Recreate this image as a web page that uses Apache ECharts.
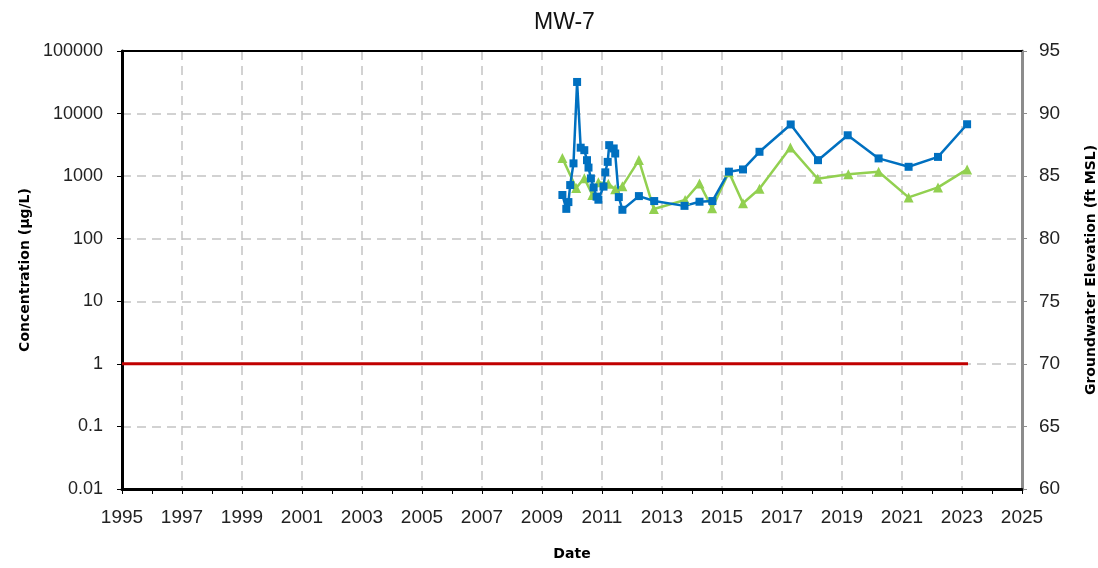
<!DOCTYPE html>
<html>
<head>
<meta charset="utf-8">
<title>MW-7</title>
<script src="https://cdn.jsdelivr.net/npm/echarts/dist/echarts.min.js"></script>
<style>
  html, body { margin: 0; padding: 0; background: #fff; }
  #main { width: 1098px; height: 568px; }
</style>
</head>
<body>
<div id="main"></div>
<script>
// concentration (blue squares, left log axis)
const concDates = [2009.68, 2009.81, 2009.88, 2009.94, 2010.05, 2010.17, 2010.29, 2010.41, 2010.50, 2010.55,
  2010.63, 2010.72, 2010.82, 2010.88, 2011.05, 2011.11, 2011.19, 2011.24, 2011.39, 2011.44,
  2011.56, 2011.68, 2012.23, 2012.74, 2013.75, 2014.25, 2014.68, 2015.23, 2015.70, 2016.25,
  2017.29, 2018.20, 2019.19, 2020.22, 2021.22, 2022.20, 2023.17];
const concValues = [500, 300, 385, 720, 1600, 32000, 2850, 2600, 1800, 1370,
  920, 660, 470, 420, 680, 1150, 1690, 3130, 2770, 2300,
  463, 290, 480, 400, 335, 390, 400, 1180, 1280, 2450,
  6700, 1800, 4500, 1920, 1410, 2030, 6750];

// groundwater elevation (green triangles, right axis)
const gwDates = [2009.68, 2010.14, 2010.41, 2010.68, 2010.88, 2011.21, 2011.44, 2011.68, 2012.23, 2012.73,
  2013.77, 2014.25, 2014.67, 2015.23, 2015.70, 2016.25, 2017.28, 2018.19, 2019.21, 2020.22,
  2021.22, 2022.20, 2023.17];
const gwValues = [86.44, 84.05, 84.84, 83.49, 84.52, 84.4, 83.95, 84.2, 86.28, 82.37,
  83.09, 84.42, 82.43, 85.32, 82.83, 83.99, 87.28, 84.79, 85.16, 85.35,
  83.3, 84.1, 85.54];

// cleanup level line
const limitDates = [1995, 2023.2];
const limitValues = [1, 1];

const yearMin = 1995, yearMax = 2025;
const elevMin = 60, elevMax = 95;

const chart = echarts.init(document.getElementById('main'));

const labelFont = 'Liberation Sans';
const nameStyle = { fontFamily: 'DejaVu Sans', fontWeight: 'bold', fontSize: 14, color: '#000' };
const dashed = { show: true, lineStyle: { color: '#c4c4c4', width: 1.5, type: [9, 6] } };

const zip = (xs, ys) => xs.map((x, i) => [x, ys[i]]);

const option = {
  animation: false,
  title: {
    text: 'MW-7',
    left: 529,
    top: 6,
    textStyle: { fontFamily: labelFont, fontWeight: 'normal', fontSize: 23, color: '#111' }
  },
  grid: { left: 122, right: 76, top: 51, bottom: 79, outerBoundsMode: 'none', containLabel: false },
  xAxis: [
    {
      type: 'value',
      min: yearMin,
      max: yearMax,
      interval: 2,
      name: 'Date',
      nameLocation: 'middle',
      nameGap: 58,
      nameTextStyle: nameStyle,
      axisLine: { lineStyle: { color: '#000', width: 3 } },
      axisTick: { show: true, length: 5, lineStyle: { color: '#000', width: 1 } },
      minorTick: { show: true, splitNumber: 2, length: 5, lineStyle: { color: '#000', width: 1 } },
      axisLabel: { fontFamily: labelFont, fontSize: 19, color: '#222', margin: 19, formatter: v => String(v) },
      splitLine: dashed
    },
    {
      // plain top border
      type: 'value',
      position: 'top',
      min: yearMin,
      max: yearMax,
      axisLine: { show: true, lineStyle: { color: '#000', width: 2 } },
      axisTick: { show: false },
      axisLabel: { show: false },
      splitLine: { show: false }
    }
  ],
  yAxis: [
    {
      type: 'log',
      logBase: 10,
      min: 0.01,
      max: 100000,
      splitNumber: 7,
      name: 'Concentration (µg/L)',
      nameLocation: 'middle',
      nameGap: 88,
      nameRotate: 90,
      nameTextStyle: nameStyle,
      axisLine: { show: true, lineStyle: { color: '#000', width: 3 } },
      axisTick: { show: true, length: 5, lineStyle: { color: '#000' } },
      axisLabel: {
        fontFamily: labelFont, fontSize: 18, color: '#222', margin: 19,
        formatter: v => String(+v.toPrecision(2))
      },
      splitLine: dashed
    },
    {
      type: 'value',
      position: 'right',
      min: elevMin,
      max: elevMax,
      interval: 5,
      name: 'Groundwater Elevation (ft MSL)',
      nameLocation: 'middle',
      nameGap: 62,
      nameRotate: 90,
      nameTextStyle: nameStyle,
      axisLine: { show: true, lineStyle: { color: '#8c8c8c', width: 3 } },
      axisTick: { show: true, length: 5, lineStyle: { color: '#8c8c8c' } },
      axisLabel: { fontFamily: labelFont, fontSize: 19, color: '#222', margin: 17 },
      splitLine: { show: false }
    }
  ],
  series: [
    {
      name: 'limit',
      type: 'line',
      yAxisIndex: 0,
      data: zip(limitDates, limitValues),
      showSymbol: false,
      lineStyle: { color: '#c00000', width: 3 }
    },
    {
      name: 'Groundwater Elevation',
      type: 'line',
      yAxisIndex: 1,
      data: zip(gwDates, gwValues),
      symbol: 'triangle',
      symbolSize: 10,
      itemStyle: { color: '#92d050' },
      lineStyle: { color: '#92d050', width: 2.5 }
    },
    {
      name: 'Concentration',
      type: 'line',
      yAxisIndex: 0,
      data: zip(concDates, concValues),
      symbol: 'rect',
      symbolSize: 8,
      itemStyle: { color: '#0070c0' },
      lineStyle: { color: '#0070c0', width: 2.5 }
    }
  ]
};

chart.setOption(option);
</script>
</body>
</html>
